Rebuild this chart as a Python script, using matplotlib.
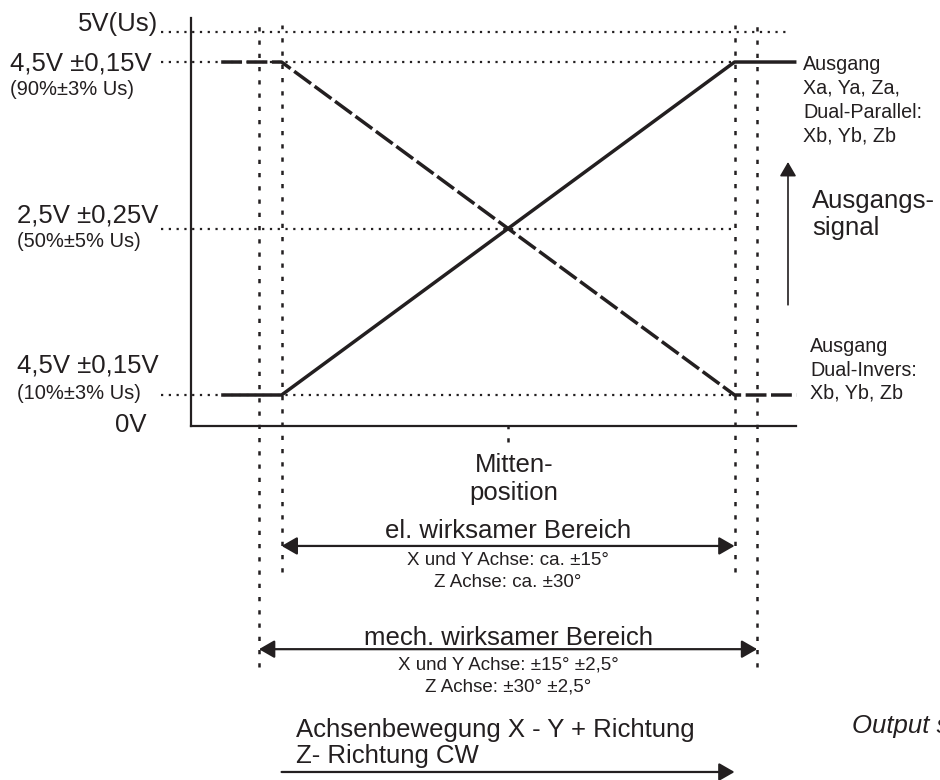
import numpy as np
import matplotlib
matplotlib.use("Agg")
import matplotlib.pyplot as plt

plt.rcParams['font.family'] = ['Liberation Sans', 'DejaVu Sans']

# signal characteristic (position in degrees, output in volts)
position = [-19.0, -15.0, 15.0, 19.1]
out_parallel = [0.5, 0.5, 4.5, 4.5]   # Xa, Ya, Za / Dual-Parallel
out_inverse = [4.5, 4.5, 0.5, 0.5]    # Dual-Invers
el_range = [-15.0, 15.0]              # el. wirksamer Bereich
mech_range = [-16.5, 16.5]            # mech. wirksamer Bereich
levels = [0.5, 2.5, 4.5]
supply = 5.0

level_labels = ["4,5V ±0,15V", "2,5V ±0,25V", "4,5V ±0,15V"]
level_notes = ["(10%±3% Us)", "(50%±5% Us)", "(90%±3% Us)"]

INK = '#231f20'
W, H = 940, 780
BIG = 18.5
SMALL = 14.5
MID = 14.2
DESC = 13.5

fig = plt.figure(figsize=(W / 100, H / 100), dpi=100)
ax = fig.add_axes([191 / W, 1 - 426 / H, 605 / W, 408 / H])
ax.patch.set_alpha(0)

# schematic voltage axis: the 0..0.5 V and 4.5..5 V bands are drawn compressed
volt_pts = [0, 0.5, 4.5, 5, 6]
pix_pts = [0, 31, 364, 394, 455]
ax.set_yscale('function', functions=(lambda v: np.interp(v, volt_pts, pix_pts),
                                     lambda p: np.interp(p, pix_pts, volt_pts)))
ax.set_ylim(0, 5.23)
ax.set_xlim(-21.0, 19.07)
ax.set_xticks([])
ax.set_yticks([])
ax.minorticks_off()
for s in ['top', 'right']:
    ax.spines[s].set_visible(False)
for s in ['left', 'bottom']:
    ax.spines[s].set_linewidth(1.6)
    ax.spines[s].set_color(INK)

hdot = dict(color=INK, lw=1.6, dashes=(1.0, 2.5), clip_on=False, zorder=1)
vdot = dict(color=INK, lw=1.8, dashes=(1.7, 3.6), clip_on=False, zorder=1)

# horizontal guides
ax.plot([-23.0, 18.7], [supply, supply], **hdot)
for lv in levels:
    ax.plot([-23.0, el_range[1]], [lv, lv], **hdot)

# vertical guides
for x in el_range:
    ax.axvline(x, ymin=-0.358, ymax=0.983, **vdot)
for x in mech_range:
    ax.axvline(x, ymin=-0.591, ymax=0.983, **vdot)
ax.axvline(0, ymin=-0.04, ymax=0, **vdot)

# output curves
ax.plot(position, out_parallel, color=INK, lw=2.5, clip_on=False, zorder=3,
        solid_capstyle='butt')
ax.plot(position, out_inverse, color=INK, lw=2.5, dashes=(6, 1.3), clip_on=False,
        zorder=3)

# range arrows
def arrow(x0, x1, yfrac, style, lw=1.6, hl=0.94, hw=0.54):
    ax.annotate('', xy=(x1, yfrac), xytext=(x0, yfrac),
                xycoords=('data', 'axes fraction'),
                textcoords=('data', 'axes fraction'),
                arrowprops=dict(arrowstyle=f'{style},head_length={hl},head_width={hw}',
                                mutation_scale=10, lw=lw, color=INK,
                                shrinkA=0, shrinkB=0), annotation_clip=False)

arrow(el_range[0], el_range[1], -0.294, '<|-|>')
arrow(mech_range[0], mech_range[1], -0.547, '<|-|>')
arrow(el_range[0], el_range[1], -0.848, '-|>')

# output signal arrow
ax.annotate('', xy=(18.54, 0.647), xytext=(18.54, 0.297),
            xycoords=('data', 'axes fraction'), textcoords=('data', 'axes fraction'),
            arrowprops=dict(arrowstyle='-|>,head_length=0.86,head_width=0.5',
                            mutation_scale=10, lw=1.2, color=INK,
                            shrinkA=0, shrinkB=0), annotation_clip=False)


def put(x, y, s, size, ha='left', **kw):
    fig.text(x / W, 1 - y / H, s, fontsize=size, ha=ha, va='baseline',
             color=INK, **kw)


# level labels
put(158, 31, "5V(Us)", BIG, ha='right')
put(10, 70, level_labels[2], BIG)
put(10, 95, level_notes[2], SMALL)
put(17, 222, level_labels[1], BIG)
put(17, 247, level_notes[1], SMALL)
put(17, 372, level_labels[0], BIG)
put(17, 399, level_notes[0], SMALL)
put(147, 432, "0V", BIG, ha='right')

# output descriptions
for i, s in enumerate(["Ausgang", "Xa, Ya, Za,", "Dual-Parallel:", "Xb, Yb, Zb"]):
    put(803, 70 + 24 * i, s, MID)
for y, s in zip([352, 376, 399], ["Ausgang", "Dual-Invers:", "Xb, Yb, Zb"]):
    put(810, y, s, MID)
put(812, 208, "Ausgangs-", BIG)
put(812, 235, "signal", BIG)

# position annotations
put(514, 472, "Mitten-", BIG, ha='center')
put(514, 500, "position", BIG, ha='center')
put(508, 538, "el. wirksamer Bereich", BIG, ha='center')
put(508, 565, "X und Y Achse: ca. ±15°", DESC, ha='center')
put(508, 587, "Z Achse: ca. ±30°", DESC, ha='center')
put(508, 645, "mech. wirksamer Bereich", BIG, ha='center')
put(508, 670, "X und Y Achse: ±15° ±2,5°", DESC, ha='center')
put(508, 692, "Z Achse: ±30° ±2,5°", DESC, ha='center')
put(296, 737, "Achsenbewegung X - Y + Richtung", BIG)
put(296, 763, "Z- Richtung CW", BIG)
# cut off at the right edge, as in the original drawing
put(852, 733, "Output signal", BIG, style='italic')

fig.savefig("out.png", dpi=100, facecolor='white')
